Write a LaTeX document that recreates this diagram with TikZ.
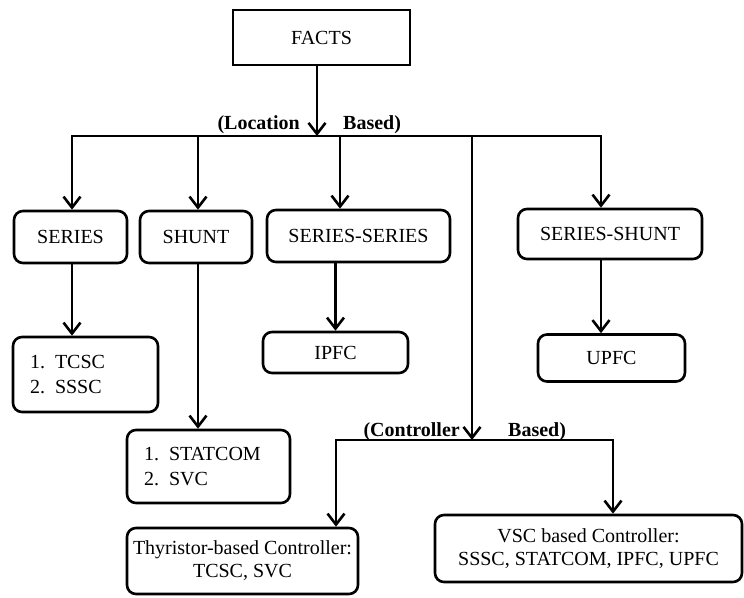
\documentclass[tikz,border=0pt]{standalone}
\usepackage{fontspec}
\setmainfont{Liberation Serif}
\usetikzlibrary{arrows.meta}
\begin{document}
\begin{tikzpicture}[x=1pt,y=-1pt,
  sqbox/.style={draw,line width=2.6pt,inner sep=0pt,font=\fontsize{20}{24}\selectfont},
  rbox/.style={sqbox,rounded corners=9pt},
  listbox/.style={rbox,align=left,inner xsep=17pt,font=\fontsize{20}{25}\selectfont},
  twoline/.style={rbox,align=center,font=\fontsize{20}{23}\selectfont},
  arr/.style={line width=2.6pt,-{Straight Barb[length=11pt,width=17pt]}},
  conn/.style={line width=2.2pt,line cap=rect},
  lbl/.style={font=\bfseries\fontsize{20}{24}\selectfont,inner sep=0pt}]
\useasboundingbox[fill=white] (0,0) rectangle (744,597);

% nodes
\node[sqbox,minimum width=177pt,minimum height=55pt] (facts) at (321.5,37.5) {FACTS};
\node[rbox,minimum width=113pt,minimum height=52pt] (series) at (70.5,237) {SERIES};
\node[rbox,minimum width=112pt,minimum height=52pt] (shunt) at (196,237) {SHUNT};
\node[rbox,minimum width=183pt,minimum height=52pt] (serser) at (358.5,236) {SERIES-SERIES};
\node[rbox,minimum width=184pt,minimum height=50pt] (sershunt) at (610,234) {SERIES-SHUNT};
\node[rbox,minimum width=145pt,minimum height=41pt] (ipfc) at (335.5,352.5) {IPFC};
\node[rbox,minimum width=147pt,minimum height=47pt] (upfc) at (611.5,358) {UPFC};
\node[listbox,text width=111pt,minimum height=75pt] (tcsc) at (85.5,374.5)
  {1.\hspace{10pt}TCSC\\2.\hspace{10pt}SSSC};
\node[listbox,text width=129pt,minimum height=73pt] (statcom) at (208.5,466.5)
  {1.\hspace{10pt}STATCOM\\2.\hspace{10pt}SVC};
\node[twoline,minimum width=231pt,minimum height=66pt] (thy) at (242.5,561)
  {Thyristor-based Controller:\\TCSC, SVC};
\node[twoline,minimum width=307pt,minimum height=67pt] (vsc) at (588.5,548.5)
  {VSC based Controller:\\SSSC, STATCOM, IPFC, UPFC};

% labels
\node[lbl,anchor=base east] (loc) at (300,129) {(Location};
\node[lbl,anchor=base west] (locb) at (343,129) {Based)};
\node[lbl,anchor=base east] (ctl) at (460,436) {(Controller};
\node[lbl,anchor=base west] (ctlb) at (508,436) {Based)};

% junction points
\coordinate (hub) at (317,136);
\coordinate (b1) at (72,136);
\coordinate (b2) at (198,136);
\coordinate (b3) at (340,136);
\coordinate (b4) at (472,136);
\coordinate (b5) at (601,136);
\coordinate (chub) at (472,440);
\coordinate (c1) at (336,440);
\coordinate (c2) at (613,440);

% connectors
\draw[conn] (b1) -- (b5);
\draw[arr] (hub |- facts.south) -- (hub);
\draw[arr] (b1) -- (b1 |- series.north);
\draw[arr] (b2) -- (b2 |- shunt.north);
\draw[arr] (b3) -- (b3 |- serser.north);
\draw[arr] (b5) -- (b5 |- sershunt.north);
\draw[arr] (b4) -- (chub);
\draw[conn] (c1) -- (c2);
\draw[arr] (c1) -- (c1 |- thy.north);
\draw[arr] (c2) -- (c2 |- vsc.north);
\draw[arr] (b1 |- series.south) -- (b1 |- tcsc.north);
\draw[arr] (b2 |- shunt.south) -- (b2 |- statcom.north);
\draw[arr] (serser.south -| ipfc.north) -- (ipfc.north);
\draw[arr] (b5 |- sershunt.south) -- (b5 |- upfc.north);
\end{tikzpicture}
\end{document}
